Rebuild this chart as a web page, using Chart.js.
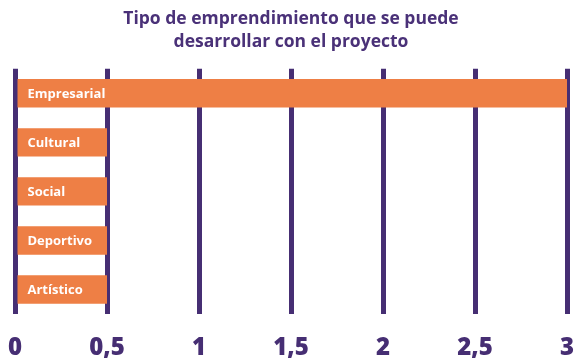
<!DOCTYPE html>
<html>
<head>
<meta charset="utf-8">
<script src="https://cdn.jsdelivr.net/npm/chart.js@4/dist/chart.umd.min.js"></script>
<style>
  html, body { margin: 0; padding: 0; background: #fff; }
  #wrap { width: 578px; height: 359px; }
</style>
</head>
<body>
<div id="wrap"><canvas id="myCanvas"></canvas></div>
<script>
'use strict';

const categories = ['Empresarial', 'Cultural', 'Social', 'Deportivo', 'Artístico'];
const counts = [3, 0.5, 0.5, 0.5, 0.5];
const tickValues = [0, 0.5, 1, 1.5, 2, 2.5, 3];
const titleLines = ['Tipo de emprendimiento que se puede', 'desarrollar con el proyecto'];

const purple = '#462E73';
const orange = '#EE7F45';

// writes the category name in white at the start of each bar
const barNames = {
  id: 'barNames',
  afterDatasetsDraw(chart) {
    const ctx = chart.ctx;
    const meta = chart.getDatasetMeta(0);
    ctx.save();
    ctx.fillStyle = '#ffffff';
    ctx.font = 'bold 13px "Open Sans", sans-serif';
    ctx.textBaseline = 'middle';
    ctx.textAlign = 'left';
    meta.data.forEach(function (bar, i) {
      ctx.fillText(categories[i], bar.base + 10, bar.y + 1);
    });
    ctx.restore();
  }
};

const data = {
  labels: categories,
  datasets: [{
    data: counts,
    backgroundColor: orange,
    borderWidth: 0,
    barPercentage: 0.58,
    categoryPercentage: 1
  }]
};

const config = {
  type: 'bar',
  data: data,
  plugins: [barNames],
  options: {
    indexAxis: 'y',
    responsive: true,
    maintainAspectRatio: false,
    animation: false,
    layout: { padding: { left: 15, right: 11, top: 8, bottom: 0 } },
    plugins: {
      legend: { display: false },
      tooltip: { enabled: false },
      title: {
        display: true,
        text: titleLines,
        color: '#4A3178',
        font: { family: '"Open Sans", sans-serif', size: 17.5, weight: 'bold', lineHeight: 1.28 },
        padding: { top: 0, bottom: 16 }
      }
    },
    scales: {
      x: {
        min: 0,
        max: 3,
        afterBuildTicks(axis) {
          axis.ticks = tickValues.map(function (v) { return { value: v }; });
        },
        afterFit(axis) {
          // keep the plot edges fixed, the end labels may hang over
          axis.paddingLeft = 0;
          axis.paddingRight = 0;
          axis.height = 45;
        },
        border: { display: false },
        grid: { color: purple, lineWidth: 5, drawTicks: false },
        ticks: {
          color: purple,
          padding: 20,
          maxRotation: 0,
          font: { family: '"Open Sans", sans-serif', size: 24, weight: '800' },
          callback: function (v) { return String(v).replace('.', ','); }
        }
      },
      y: {
        display: false
      }
    }
  }
};

new Chart(document.getElementById('myCanvas'), config);
</script>
</body>
</html>
